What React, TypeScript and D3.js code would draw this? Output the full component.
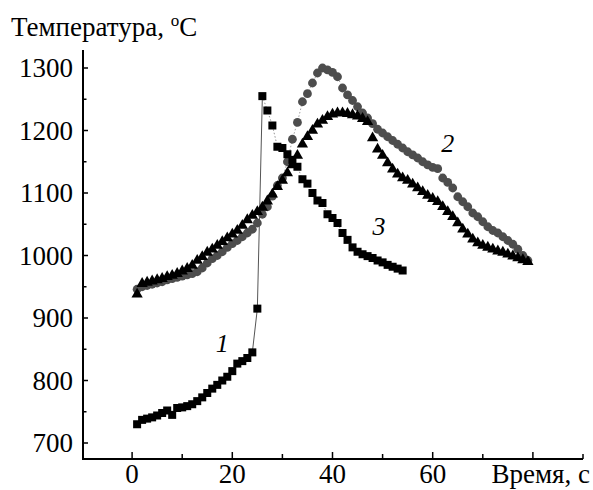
import React, { useEffect, useRef } from 'react'
import * as d3 from 'd3'

// время, с — общий шаг 1 с
const squaresT = d3.range(1, 55)
const squaresV = [
  730, 737, 739, 741, 744, 748, 752, 745, 756, 757, 759, 762, 767, 773, 780, 787, 793, 800, 806, 815,
  827, 831, 836, 845, 915, 1255, 1232, 1208, 1174, 1172, 1162, 1153, 1142, 1122, 1115, 1100, 1088, 1084,
  1066, 1060, 1052, 1036, 1025, 1013, 1006, 1002, 999, 996, 992, 989, 985, 982, 979, 976,
]
// точки 1..25 — участок "1", дальше — участок "3"

const circlesT = d3.range(1, 80)
const circlesV = [
  946, 950, 952, 954, 956, 958, 961, 963, 965, 967, 969, 971, 974, 980, 988, 995, 1000, 1006, 1013, 1019,
  1024, 1030, 1036, 1042, 1052, 1066, 1078, 1095, 1112, 1124, 1150, 1186, 1213, 1246, 1259, 1276, 1292, 1300,
  1297, 1293, 1286, 1268, 1257, 1248, 1238, 1228, 1220, 1211, 1202, 1196, 1190, 1184, 1178, 1172, 1166, 1161,
  1156, 1150, 1145, 1141, 1139, 1124, 1117, 1108, 1094, 1086, 1078, 1068, 1062, 1054, 1046, 1040, 1036, 1030,
  1024, 1018, 1010, 1000, 992,
]

const trianglesT = d3.range(1, 80)
const trianglesV = [
  938, 955, 957, 959, 961, 963, 966, 968, 971, 975, 979, 984, 992, 998, 1005, 1010, 1016, 1022, 1028, 1034,
  1040, 1048, 1057, 1064, 1070, 1077, 1087, 1098, 1110, 1120, 1132, 1145, 1160, 1178, 1190, 1200, 1210, 1216,
  1222, 1226, 1228, 1228, 1227, 1225, 1223, 1219, 1214, 1188, 1170, 1160, 1148, 1138, 1130, 1124, 1120, 1114,
  1108, 1102, 1096, 1091, 1086, 1078, 1070, 1062, 1052, 1042, 1034, 1026, 1020, 1016, 1013, 1010, 1007, 1005,
  1002, 999, 996, 993, 990,
]

const xMajor = [0, 20, 40, 60, 80]
const xLabels = ['0', '20', '40', '60']
const xMinor = [10, 30, 50, 70, 90]
const yMajor = [700, 800, 900, 1000, 1100, 1200, 1300]
const yMinor = [750, 850, 950, 1050, 1150, 1250]

const curveLabels = [
  { text: '1', t: 18, v: 846 },
  { text: '2', t: 63, v: 1166 },
  { text: '3', t: 49.3, v: 1033 },
]

const W = 593
const H = 490
const FONT = "'Liberation Serif', Tinos, 'Times New Roman', Times, 'DejaVu Serif', 'Noto Serif', serif"

export default function App() {
  const ref = useRef<SVGSVGElement>(null)

  useEffect(() => {
    const svg = d3.select(ref.current)
    svg.selectAll('*').remove()

    const x = d3.scaleLinear().domain([-10, 90]).range([82, 583])
    const y = d3.scaleLinear().domain([1300, 700]).range([68, 443])
    const x0 = 83, yTop = 50, yBot = 459, xEnd = 583

    const sq = squaresT.map((t, i) => ({ t, v: squaresV[i] }))
    const ci = circlesT.map((t, i) => ({ t, v: circlesV[i] }))
    const tr = trianglesT.map((t, i) => ({ t, v: trianglesV[i] }))

    const line = d3.line<{ t: number; v: number }>().x(d => x(d.t)).y(d => y(d.v))

    // соединительные линии
    svg.append('path').attr('d', line(ci)).attr('fill', 'none')
      .attr('stroke', '#888').attr('stroke-width', 0.8).attr('stroke-dasharray', '1.5,2')
    svg.append('path').attr('d', line(sq.slice(0, 26))).attr('fill', 'none')
      .attr('stroke', '#555').attr('stroke-width', 1)
    svg.append('path').attr('d', line(sq.slice(25))).attr('fill', 'none')
      .attr('stroke', '#777').attr('stroke-width', 0.8).attr('stroke-dasharray', '1.5,2')

    // кружки
    svg.append('g').selectAll('circle').data(ci).enter().append('circle')
      .attr('cx', d => x(d.t)).attr('cy', d => y(d.v)).attr('r', 4.4)
      .attr('fill', '#4d4d4d')

    // треугольники
    const tri = d3.symbol().type(d3.symbolTriangle).size(55)
    svg.append('g').selectAll('path').data(tr).enter().append('path')
      .attr('d', tri).attr('transform', d => `translate(${x(d.t)},${y(d.v)})`)
      .attr('fill', '#000')

    // квадраты
    const s = 8
    svg.append('g').selectAll('rect').data(sq).enter().append('rect')
      .attr('x', d => x(d.t) - s / 2).attr('y', d => y(d.v) - s / 2)
      .attr('width', s).attr('height', s).attr('fill', '#000')

    // оси
    const ax = svg.append('g').attr('stroke', '#000')
    ax.append('line').attr('x1', x0).attr('x2', x0).attr('y1', yTop).attr('y2', yBot + 1).attr('stroke-width', 2)
    ax.append('line').attr('x1', x0 - 1).attr('x2', xEnd).attr('y1', yBot).attr('y2', yBot).attr('stroke-width', 2)
    yMajor.forEach(v => ax.append('line').attr('x1', x0).attr('x2', x0 + 5).attr('y1', y(v)).attr('y2', y(v)).attr('stroke-width', 1.5))
    yMinor.forEach(v => ax.append('line').attr('x1', x0).attr('x2', x0 + 3.5).attr('y1', y(v)).attr('y2', y(v)).attr('stroke-width', 1.5))
    xMajor.forEach(t => ax.append('line').attr('x1', x(t)).attr('x2', x(t)).attr('y1', yBot).attr('y2', yBot - 7).attr('stroke-width', 1.5))
    xMinor.forEach(t => ax.append('line').attr('x1', x(t)).attr('x2', x(t)).attr('y1', yBot).attr('y2', yBot - 5).attr('stroke-width', 1.5))

    const txt = svg.append('g').attr('fill', '#000')
    const addText = (xx: number, yy: number, anchor: string) =>
      txt.append('text').attr('x', xx).attr('y', yy).attr('text-anchor', anchor)
        .attr('font-family', FONT).attr('font-size', 27)

    yMajor.forEach(v => addText(73, y(v) + 9, 'end').text(String(v)))
    xLabels.forEach((l, i) => addText(x(xMajor[i]), 483, 'middle').text(l))
    addText(590, 483, 'end').text('Время, с')

    const title = addText(11, 36, 'start')
    title.append('tspan').text('Температура, ')
    title.append('tspan').attr('font-size', 17).attr('dy', -10).text('o')
    title.append('tspan').attr('dy', 10).text('C')

    curveLabels.forEach(l => addText(x(l.t), y(l.v), 'middle')
      .attr('font-style', 'italic').attr('font-size', 26).text(l.text))
  }, [])

  return <svg ref={ref} width={W} height={H} style={{ position: 'absolute', left: 0, top: 0, background: '#fff' }} />
}
